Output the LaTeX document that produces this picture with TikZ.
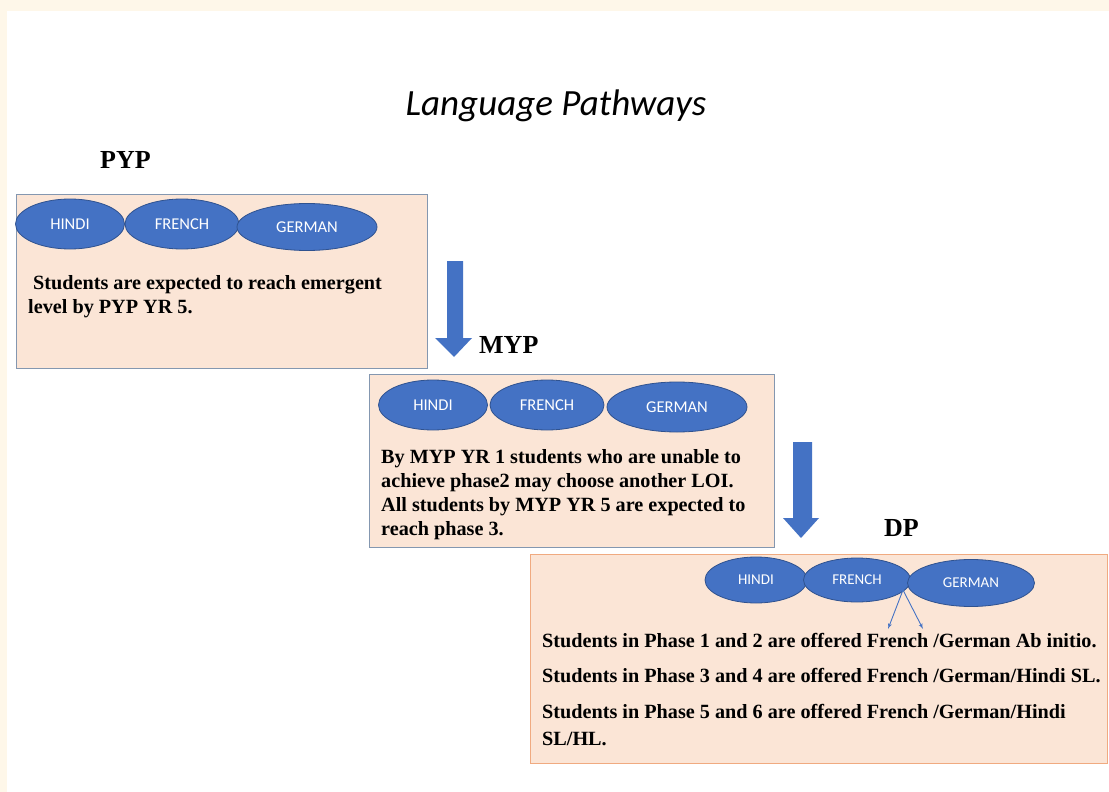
\documentclass[tikz,border=0pt]{standalone}
\usepackage{fontspec}
\setmainfont{Liberation Serif}
\newfontfamily\ovalfont{Carlito}
\newfontfamily\handfont{Carlito}
\usetikzlibrary{arrows}
\usetikzlibrary{positioning}
\usetikzlibrary{shapes.geometric}
\definecolor{mblue}{RGB}{68, 114, 196}
\definecolor{mbluedark}{RGB}{47, 82, 143}
\definecolor{mpeach}{RGB}{251, 229, 214}
\definecolor{mframe}{RGB}{132, 151, 176}
\definecolor{morange}{RGB}{240, 170, 128}
\definecolor{mcream}{RGB}{254, 247, 233}

\begin{document}
\begin{tikzpicture}[x=1pt, y=-1pt,
    oval/.style={ellipse, fill=mblue, draw=mbluedark, line width=0.8pt, inner sep=0pt,
      text=white, font=\ovalfont\fontsize{16.5}{16.5}\selectfont},
    smalloval/.style={oval, font=\ovalfont\fontsize{15}{15}\selectfont},
    stagebox/.style={draw=mframe, fill=mpeach, line width=1.2pt, inner sep=0pt, anchor=north west},
    body/.style={anchor=base west, align=left, inner sep=0pt,
      font=\bfseries\fontsize{20.2}{24}\selectfont},
    stage/.style={anchor=base west, inner sep=0pt, font=\bfseries\fontsize{26}{26}\selectfont}]
    \useasboundingbox (0, 0) rectangle (1109, 792);
    \fill [mcream] (0, 0) rectangle (1109, 792);
    \fill [white] (7, 11) rectangle (1109, 792);

    \node [font=\handfont\itshape\fontsize{37}{37}\selectfont, anchor=base] (title) at (556, 115) {Language Pathways};

    % PYP
    \node [stage] (pyp) at (100, 168) {PYP};
    \node [stagebox, minimum width=411, minimum height=174] (pypbox) at (16, 194) {};
    \node [oval, minimum width=109, minimum height=50] (pyphindi) at (70, 224) {HINDI};
    \node [oval, minimum width=114, minimum height=50] (pypfrench) at (182, 224) {FRENCH};
    \node [oval, minimum width=140, minimum height=47] (pypgerman) at (307, 227) {GERMAN};
    % base of a wrapped node = its last line
    \node [body] (pyptext) at (28, 313) {\hspace*{5pt}Students are expected to reach emergent\\level by PYP YR 5.};

    \fill [mblue] (447, 261) -- (463, 261) -- (463, 338) -- (472, 338) -- (454, 357) -- (435, 338) -- (447, 338) -- cycle;

    % MYP
    \node [stage] (myp) at (479, 353) {MYP};
    \node [stagebox, minimum width=405, minimum height=173] (mypbox) at (369, 374) {};
    \node [oval, minimum width=109, minimum height=50] (myphindi) at (433, 405) {HINDI};
    \node [oval, minimum width=114, minimum height=50] (mypfrench) at (547, 405) {FRENCH};
    \node [oval, minimum width=140, minimum height=50] (mypgerman) at (677, 407) {GERMAN};
    \node [body] (myptext) at (381, 535) {By MYP YR 1 students who are unable to\\achieve phase2 may choose another LOI.\\All students by MYP YR 5 are expected to\\reach phase 3.};

    \fill [mblue] (793, 442) -- (812, 442) -- (812, 518) -- (819, 518) -- (801, 538) -- (783, 518) -- (793, 518) -- cycle;

    % DP
    \node [stage] (dp) at (884, 536) {DP};
    \node [stagebox, draw=morange, minimum width=577, minimum height=209] (dpbox) at (530, 554) {};
    \node [smalloval, minimum width=102, minimum height=46] (dphindi) at (756, 580) {HINDI};
    \node [smalloval, minimum width=107, minimum height=44] (dpfrench) at (857, 580) {FRENCH};
    \node [smalloval, minimum width=127, minimum height=47] (dpgerman) at (971, 583) {GERMAN};

    \coordinate (split) at (903, 590);
    \coordinate (abinitio) at (888, 629);
    \coordinate (slhl) at (923, 629);
    \draw [mblue, line width=0.9pt, -latex'] (split) -- (abinitio);
    \draw [mblue, line width=0.9pt, -latex'] (split) -- (slhl);

    \node [body] (dpline1) at (542, 647) {Students in Phase 1 and 2 are offered French /German Ab initio.};
    \node [body] (dpline2) at (542, 682) {Students in Phase 3 and 4 are offered French /German/Hindi SL.};
    \node [body, font=\bfseries\fontsize{20.2}{27}\selectfont] (dpline3) at (542, 745) {Students in Phase 5 and 6 are offered French /German/Hindi\\SL/HL.};
  \end{tikzpicture}
\end{document}
